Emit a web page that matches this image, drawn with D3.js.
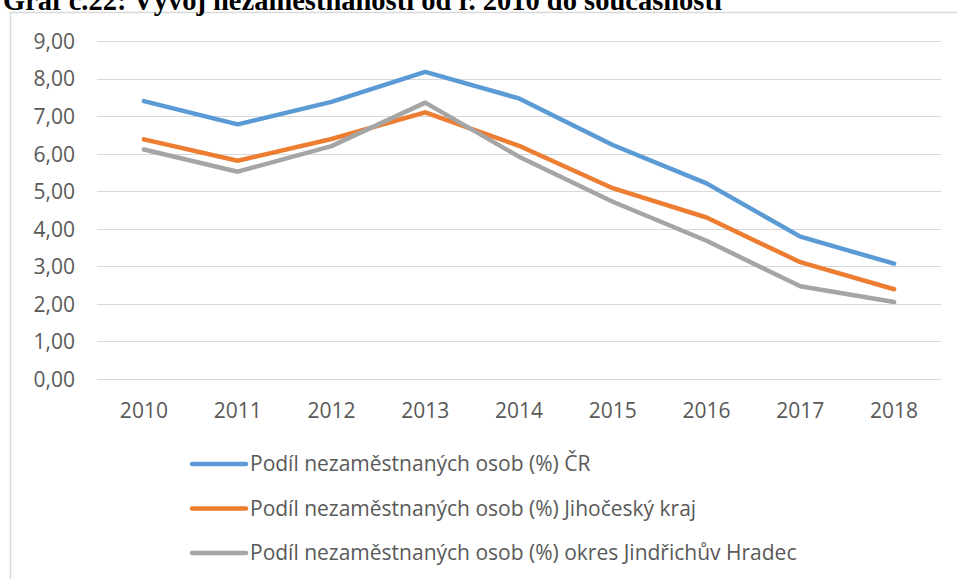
<!DOCTYPE html>
<html>
<head>
<meta charset="utf-8">
<script src="https://cdn.jsdelivr.net/npm/d3@7/dist/d3.min.js"></script>
<style>
  html, body { margin: 0; padding: 0; background: #fff; }
  svg { display: block; }
</style>
</head>
<body>
<svg id="chart" width="957" height="579"></svg>
<script>
const title = "Graf č.22: Vývoj nezaměstnanosti od r. 2010 do současnosti";
const years = ["2010","2011","2012","2013","2014","2015","2016","2017","2018"];
const seriesCR = [7.40, 6.78, 7.38, 8.18, 7.47, 6.23, 5.21, 3.79, 3.07];
const seriesJK = [6.38, 5.81, 6.39, 7.10, 6.21, 5.08, 4.30, 3.11, 2.39];
const seriesJH = [6.11, 5.52, 6.20, 7.36, 5.92, 4.72, 3.68, 2.47, 2.05];
const seriesNames = [
  "Podíl nezaměstnaných osob (%) ČR",
  "Podíl nezaměstnaných osob (%) Jihočeský kraj",
  "Podíl nezaměstnaných osob (%) okres Jindřichův Hradec"
];
const colors = ["#5B9BD5", "#ED7D31", "#A5A5A5"];
const yTicks = [0,1,2,3,4,5,6,7,8,9];

const series = [seriesCR, seriesJK, seriesJH];
const svg = d3.select("#chart");
const font = "'Open Sans', 'Noto Sans', sans-serif";
const textColor = "#595959";
const fs = 21;

// chart border
svg.append("rect")
  .attr("x", 10.5).attr("y", 12.5)
  .attr("width", 960).attr("height", 620)
  .attr("fill", "#fff").attr("stroke", "#d9d9d9").attr("stroke-width", 1.5);

// title (partially clipped at top, as in the source document)
svg.append("text")
  .attr("x", 3).attr("y", 10)
  .attr("font-family", "'Liberation Serif', 'Times New Roman', serif")
  .attr("font-weight", "bold")
  .attr("font-size", 28.5)
  .attr("fill", "#000")
  .text(title);

const x = d3.scaleBand().domain(years).range([97, 941]);
const y = d3.scaleLinear().domain([0, 9]).range([379, 41]);

// gridlines
const grid = svg.append("g");
grid.selectAll("line").data(yTicks).join("line")
  .attr("x1", 97).attr("x2", 941)
  .attr("y1", d => Math.round(y(d)) + 0.5)
  .attr("y2", d => Math.round(y(d)) + 0.5)
  .attr("stroke", "#d9d9d9").attr("stroke-width", 1.2);

// y axis
const fmt = d => d3.format(".2f")(d).replace(".", ",");
const yAxis = svg.append("g")
  .attr("transform", "translate(75,0)")
  .call(d3.axisLeft(y).tickValues(yTicks).tickFormat(fmt).tickSize(0).tickPadding(0));
yAxis.select(".domain").remove();
yAxis.selectAll("text")
  .attr("font-family", font).attr("font-size", fs).attr("fill", textColor)
  .attr("dy", "0.35em");

// x axis
const xAxis = svg.append("g")
  .attr("transform", "translate(0,379)")
  .call(d3.axisBottom(x).tickSize(0).tickPadding(0));
xAxis.select(".domain").remove();
xAxis.selectAll("text")
  .attr("font-family", font).attr("font-size", fs).attr("fill", textColor)
  .attr("y", 39).attr("dy", 0);

// lines
const line = d3.line()
  .x((d, i) => x(years[i]) + x.bandwidth() / 2)
  .y(d => y(d));
svg.append("g").selectAll("path").data(series).join("path")
  .attr("d", d => line(d))
  .attr("fill", "none")
  .attr("stroke", (d, i) => colors[i])
  .attr("stroke-width", 4.5)
  .attr("stroke-linecap", "round")
  .attr("stroke-linejoin", "round");

// legend
const legend = svg.append("g");
const rows = legend.selectAll("g").data(seriesNames).join("g")
  .attr("transform", (d, i) => `translate(0,${464 + i * 44.5})`);
rows.append("line")
  .attr("x1", 192).attr("x2", 246).attr("y1", 0).attr("y2", 0)
  .attr("stroke", (d, i) => colors[i])
  .attr("stroke-width", 4.5)
  .attr("stroke-linecap", "round");
rows.append("text")
  .attr("x", 250).attr("y", 0).attr("dy", "0.35em")
  .attr("font-family", font).attr("font-size", fs).attr("fill", textColor)
  .text(d => d);
</script>
</body>
</html>
